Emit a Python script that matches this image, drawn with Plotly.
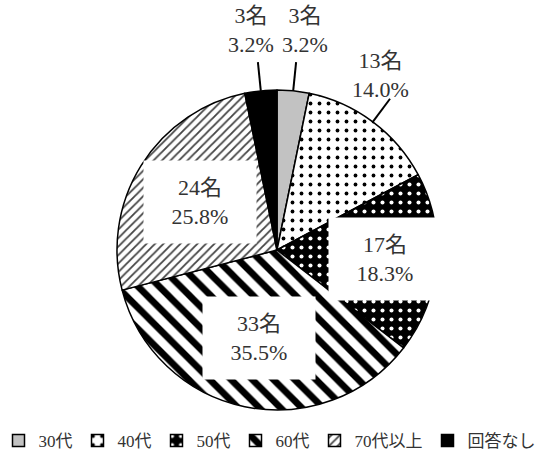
import math
import plotly.graph_objects as go

# Age groups of respondents (clockwise from 12 o'clock)
categories = ["30代", "40代", "50代", "60代", "70代以上", "回答なし"]
counts = [3, 13, 17, 33, 24, 3]
percents = [3.2, 14.0, 18.3, 35.5, 25.8, 3.2]

W, H = 539, 461
CX, CY, R = 277, 250, 160          # pie centre and radius in pixels

# Fill styles per slice
base_colors = ["#c2c2c2", "white", "black", "white", "white", "black"]
pat_shapes = ["", ".", ".", "\\", "/", ""]
pat_fg = ["#c2c2c2", "black", "white", "black", "#444444", "black"]
pat_bg = base_colors
pat_size = [8, 9, 9, 15, 6, 8]
pat_solid = [0.3, 0.14, 0.16, 0.45, 0.3, 0.3]

# Label placement: radial fraction for boxed labels, pixel nudges for outside labels
inner_r = {"50代": 0.68, "60代": 0.56, "70代以上": 0.57}
inner_w = {"50代": 110, "60代": 110, "70代以上": 110}
outer_nudge = {"30代": (9, 0), "40代": (-10, 8), "回答なし": (-7, 0)}

FONT = "Liberation Serif, Times New Roman, Noto Sans CJK JP, serif"


def px_to_paper(x, y):
    return x / W, 1 - y / H


fig = go.Figure(
    go.Pie(
        labels=categories,
        values=counts,
        sort=False,
        direction="clockwise",
        rotation=0,
        textinfo="none",
        hoverinfo="none",
        marker=dict(
            colors=base_colors,
            line=dict(color="black", width=1.5),
            pattern=dict(
                shape=pat_shapes,
                fgcolor=pat_fg,
                bgcolor=pat_bg,
                size=pat_size,
                solidity=pat_solid,
            ),
        ),
        domain=dict(
            x=[(CX - R) / W, (CX + R) / W],
            y=[1 - (CY + R) / H, 1 - (CY - R) / H],
        ),
    )
)

total = sum(counts)
annotations = []
shapes = []
cum = 0
for cat, n, p in zip(categories, counts, percents):
    mid = (cum + n / 2) / total * 2 * math.pi
    cum += n
    s, c = math.sin(mid), math.cos(mid)
    text = f"{n}名<br>{p:.1f}%"
    if cat in inner_r:
        # label in a white box inside the slice
        r_in = inner_r[cat] * R
        x, y = CX + r_in * s, CY - r_in * c
        ax, ay = px_to_paper(x, y)
        annotations.append(dict(
            x=ax, y=ay, xref="paper", yref="paper", text=text,
            showarrow=False, font=dict(family=FONT, size=22, color="#333333"),
            bgcolor="white", width=inner_w[cat], height=80,
            xanchor="center", yanchor="middle",
        ))
    else:
        # outside label with a leader line
        x0, y0 = CX + R * s, CY - R * c
        r_end = 1.18 * R
        x1, y1 = CX + r_end * s, CY - r_end * c
        p0 = px_to_paper(x0, y0)
        p1 = px_to_paper(x1, y1)
        shapes.append(dict(type="line", xref="paper", yref="paper",
                           x0=p0[0], y0=p0[1], x1=p1[0], y1=p1[1],
                           line=dict(color="black", width=2)))
        dx, dy = outer_nudge.get(cat, (0, 0))
        tx, ty = px_to_paper(x1 + dx, y1 - 3 + dy)
        annotations.append(dict(
            x=tx, y=ty, xref="paper", yref="paper", text=text,
            showarrow=False, font=dict(family=FONT, size=22, color="#333333"),
            xanchor="center", yanchor="bottom",
        ))

fig.update_layout(
    width=W, height=H,
    margin=dict(l=0, r=0, t=0, b=0),
    paper_bgcolor="white",
    plot_bgcolor="white",
    showlegend=True,
    legend=dict(
        orientation="h",
        x=0.5, xanchor="center",
        y=1 - 441 / H, yanchor="middle",
        font=dict(family=FONT, size=17, color="#333333"),
        itemwidth=30,
        traceorder="normal",
    ),
    annotations=annotations,
    shapes=shapes,
)

fig.write_html("out.html")
